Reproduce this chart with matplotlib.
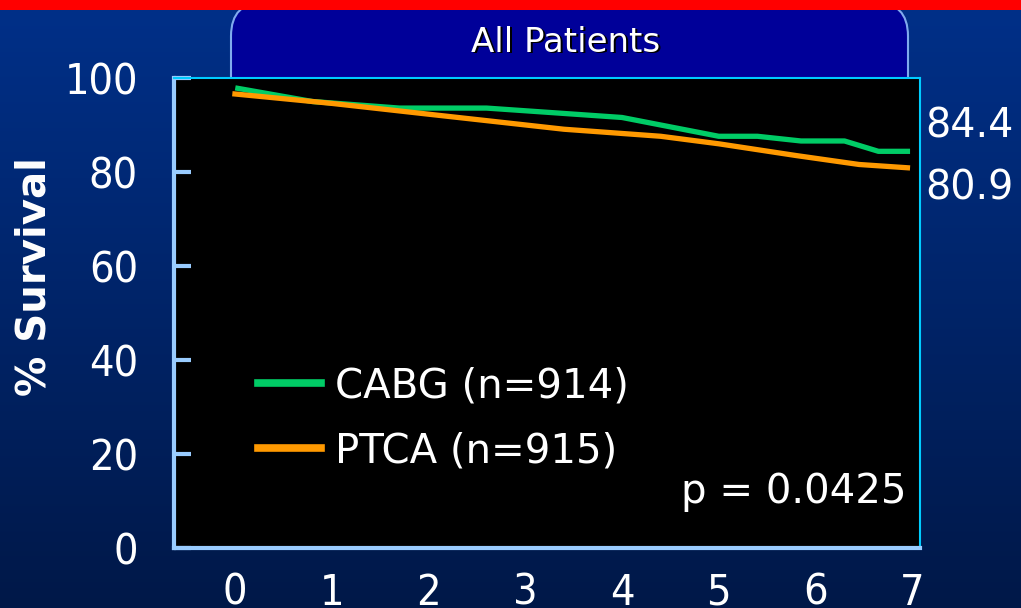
import numpy as np
import matplotlib
matplotlib.use("Agg")
import matplotlib.pyplot as plt
from matplotlib.patches import FancyBboxPatch, Rectangle
from matplotlib.lines import Line2D
from matplotlib import transforms

plt.rcParams['font.family'] = ['DejaVu Sans']

# --- данные: кривые выживаемости (годы, % выживших) ---
years_cabg = [0.03, 0.8, 1.7, 2.6, 4.0, 5.0, 5.4, 5.85, 6.3, 6.65, 6.95]
surv_cabg = [97.8, 95.0, 93.6, 93.6, 91.6, 87.6, 87.6, 86.6, 86.6, 84.4, 84.4]

years_ptca = [0.0, 1.0, 2.0, 3.4, 4.0, 4.4, 5.0, 5.8, 6.45, 6.95]
surv_ptca = [96.6, 94.6, 92.3, 89.1, 88.2, 87.6, 86.0, 83.5, 81.6, 80.9]

labels = ["CABG (n=914)", "PTCA (n=915)"]
colors = ["#00CC66", "#FF9900"]
x_ticks = [0, 1, 2, 3, 4, 5, 6, 7]
y_ticks = [0, 20, 40, 60, 80, 100]
p_text = "p = 0.0425"
title = "All Patients"

W, H = 1021, 608
fig = plt.figure(figsize=(W / 100, H / 100), dpi=100)

# фон: градиент, красная полоса, вкладка с заголовком
bg = fig.add_axes([0, 0, 1, 1], zorder=0)
bg.set_xlim(0, W)
bg.set_ylim(H, 0)
bg.axis('off')
top = np.array([0, 48, 137]) / 255
bot = np.array([0, 24, 72]) / 255
t = np.linspace(0, 1, 256)[:, None]
grad = top[None, None, :] * (1 - t[..., None]) + bot[None, None, :] * t[..., None]
grad = np.repeat(grad, 2, axis=1)
bg.imshow(grad, extent=[0, W, H, 0], aspect='auto', zorder=0)

# нижняя часть вкладки уходит под график, видны только верхние скругления
tab = FancyBboxPatch((231, 2), 677, 140, boxstyle="round,pad=0,rounding_size=34",
                     facecolor="#000099", edgecolor="#80AAEE", lw=1.5, zorder=1)
bg.add_patch(tab)
bg.add_patch(Rectangle((0, 0), W, 9.5, facecolor="#FF0000", edgecolor='none', zorder=2))
shadow = transforms.offset_copy(bg.transData, fig=fig, x=1.5, y=-1.5, units='dots')
bg.text(566, 42, title, color='black', fontsize=24.5, ha='center', va='center',
        transform=shadow, zorder=3)
bg.text(566, 42, title, color='white', fontsize=24.5, ha='center', va='center', zorder=4)

# основной график
ax = fig.add_axes([174 / W, 1 - 548 / H, 746 / W, 470 / H], zorder=2)
ax.set_facecolor('black')
ax.plot(years_cabg, surv_cabg, color=colors[0], lw=3.8, solid_joinstyle='round', zorder=3)
ax.plot(years_ptca, surv_ptca, color=colors[1], lw=3.8, solid_joinstyle='round', zorder=3)
ax.set_xlim(-0.63, 7.08)
ax.set_ylim(0, 100)

for side in ['left', 'bottom']:
    ax.spines[side].set_color('#99CCFF')
    ax.spines[side].set_linewidth(3)
for side in ['top', 'right']:
    ax.spines[side].set_color('#00CCFF')
    ax.spines[side].set_linewidth(1.5)

ax.set_yticks(y_ticks)
ax.set_xticks(x_ticks)
ax.set_xticks(x_ticks[1:-1], minor=True)
ax.tick_params(axis='y', direction='in', length=12, width=3, color='#99CCFF',
               labelcolor='white', labelsize=31, pad=26)
ax.tick_params(axis='x', which='major', length=0, labelcolor='white',
               labelsize=31, pad=17)
ax.tick_params(axis='x', which='minor', direction='in', length=14, width=2.5,
               color='#99CCFF')
for lbl in ax.get_xticklabels() + ax.get_yticklabels():
    lbl.set_fontstretch('condensed')

handles = [Line2D([], [], color=c, lw=5.5) for c in colors]
ax.legend(handles, labels, loc='center left', bbox_to_anchor=(0.113, 0.275),
          frameon=False, fontsize=29, labelcolor='white', handlelength=1.55,
          handletextpad=0.35, labelspacing=0.62, borderpad=0, borderaxespad=0)

ax.text(0.982, 0.12, p_text, transform=ax.transAxes, color='white', fontsize=29,
        ha='right', va='center')

# итоговые значения справа от графика
ax.annotate(f"{surv_cabg[-1]:.1f}", xy=(1.0, surv_cabg[-1]),
            xycoords=('axes fraction', 'data'), xytext=(4, 18),
            textcoords='offset points', color='white', fontsize=28.5,
            ha='left', va='center', annotation_clip=False)
ax.annotate(f"{surv_ptca[-1]:.1f}", xy=(1.0, surv_ptca[-1]),
            xycoords=('axes fraction', 'data'), xytext=(4, -15),
            textcoords='offset points', color='white', fontsize=28.5,
            ha='left', va='center', annotation_clip=False)

fig.text(34 / W, 1 - 277 / H, "% Survival", rotation=90, color='white',
         fontsize=29, fontweight='bold', ha='center', va='center')

fig.savefig("out.png", dpi=100, facecolor=fig.get_facecolor())
